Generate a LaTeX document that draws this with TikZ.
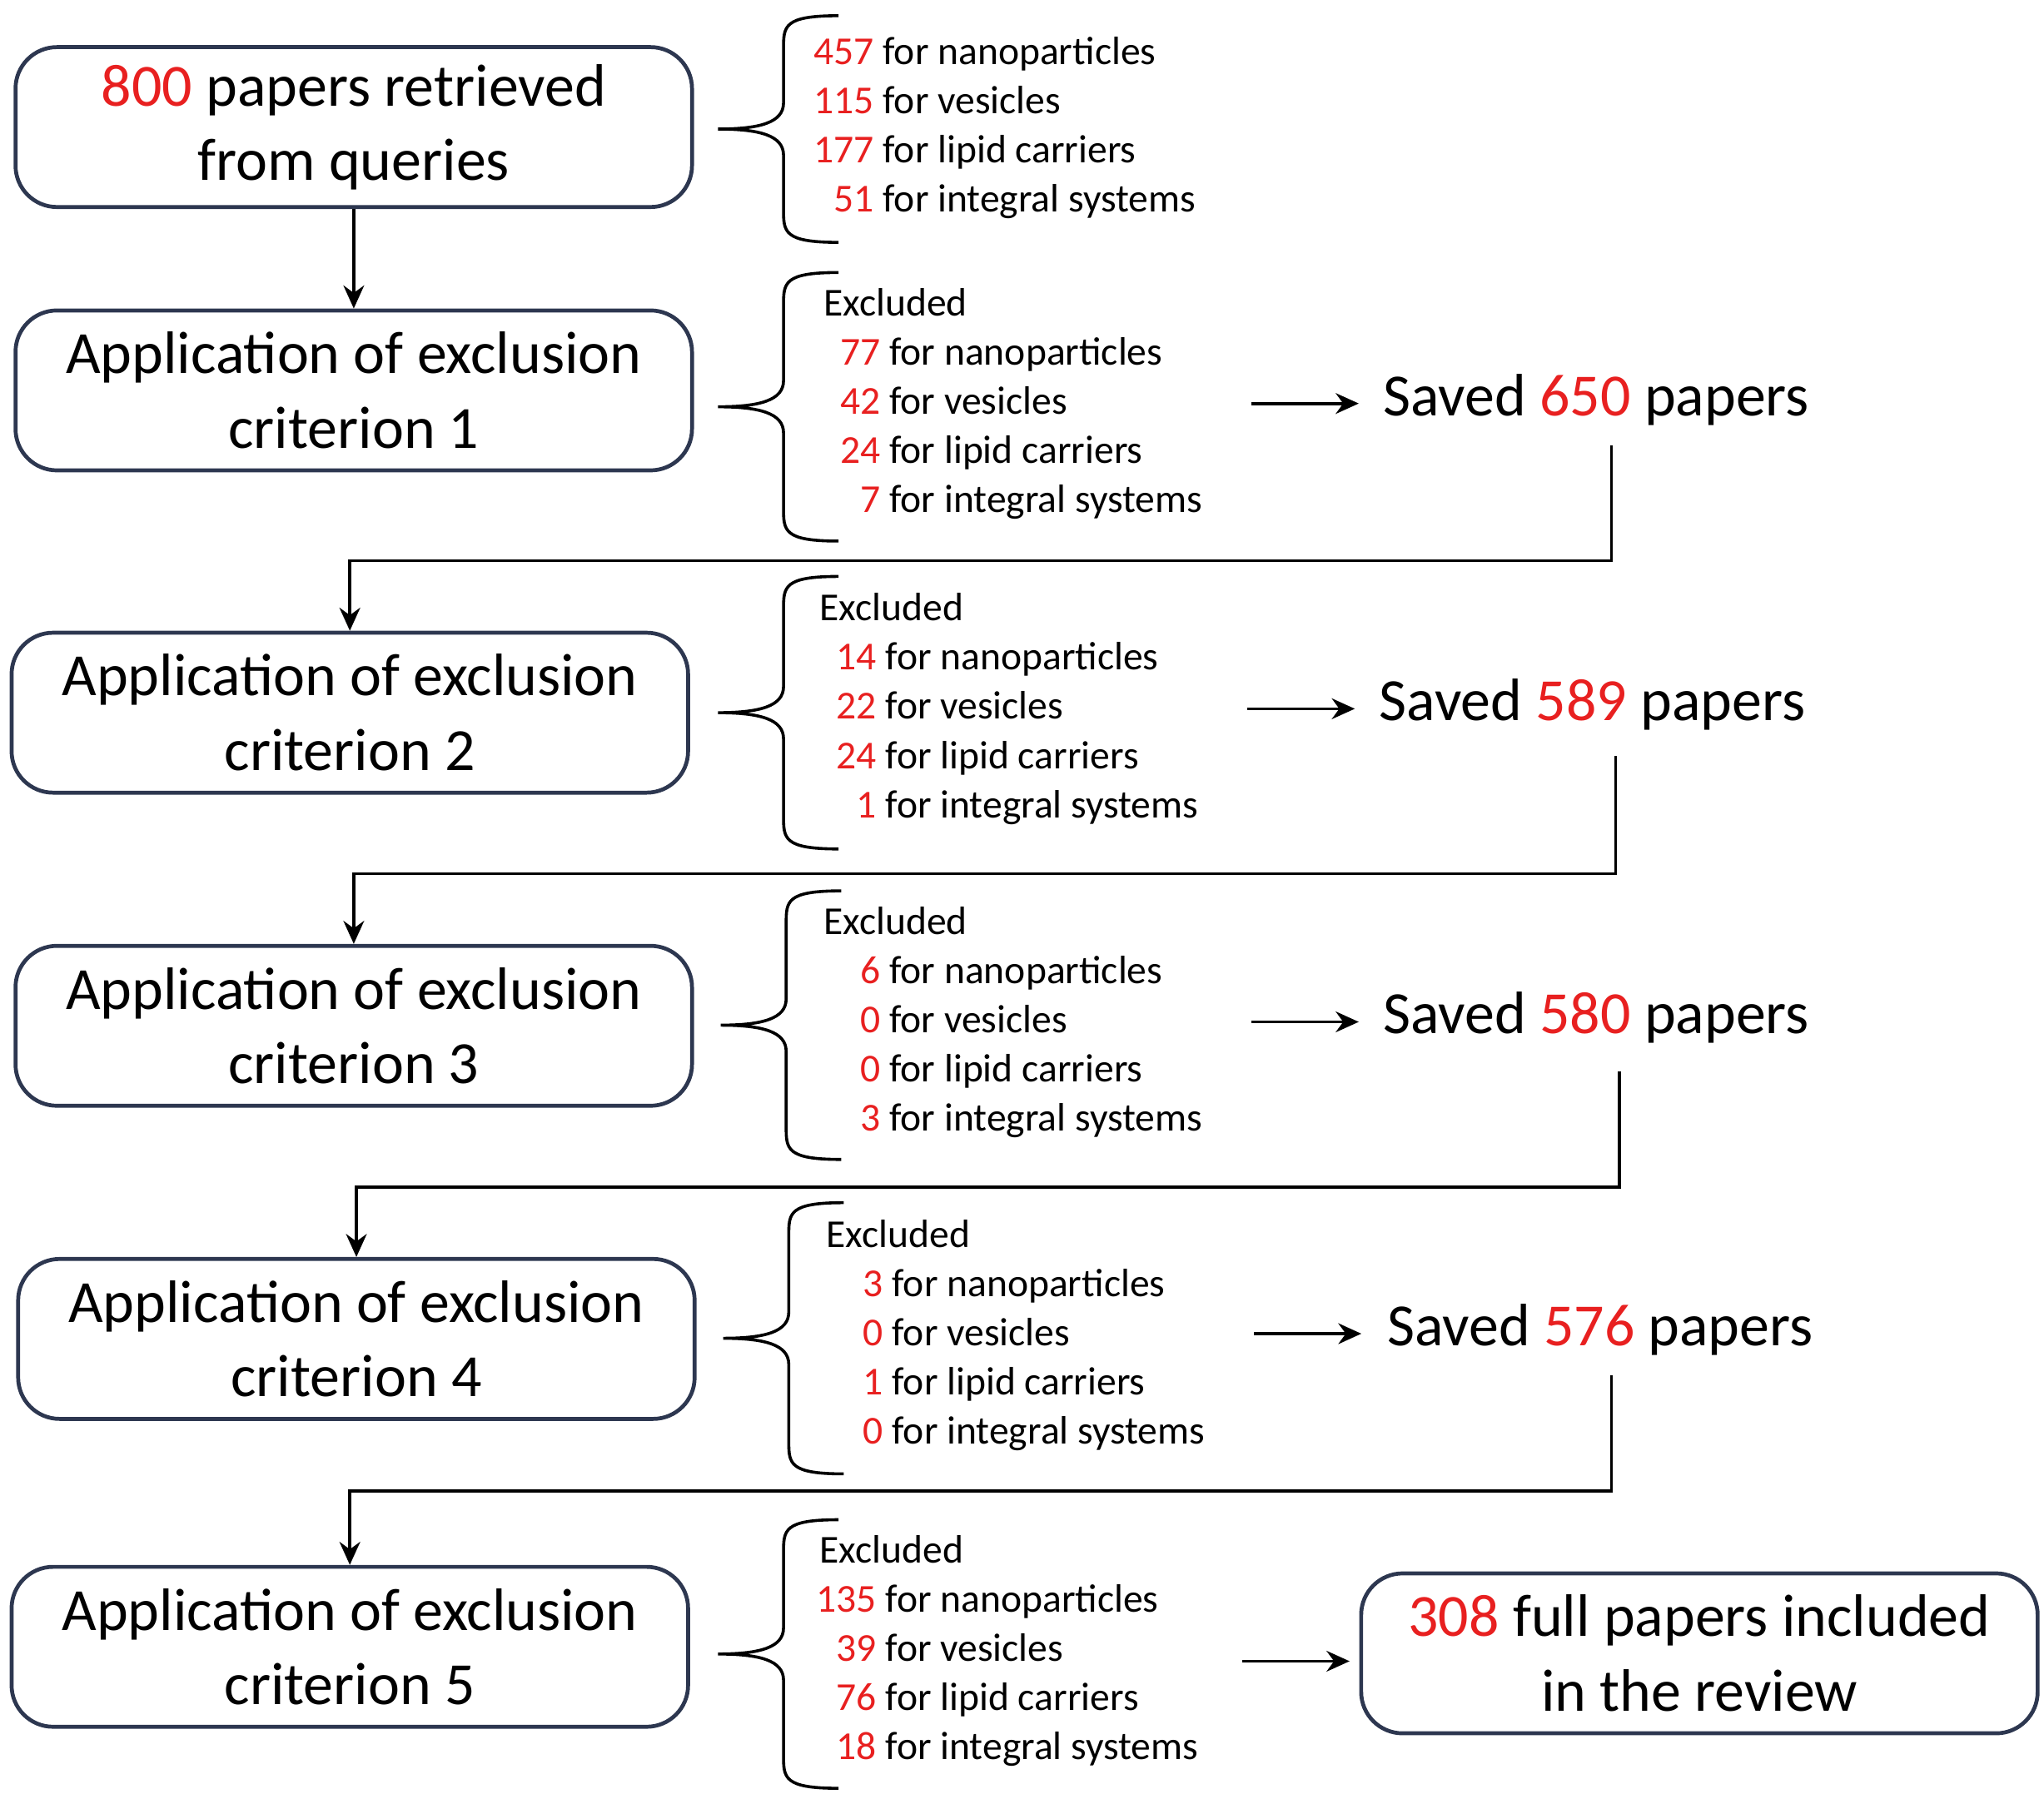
\documentclass[tikz,border=0pt]{standalone}
\usepackage{fontspec}
\setmainfont{Carlito}
\usetikzlibrary{arrows.meta}
\definecolor{rd}{RGB}{232,32,32}
\definecolor{bx}{RGB}{45,55,80}
\newcommand\R[1]{\makebox[12.3pt][r]{\textcolor{rd}{#1}}}
\newcommand\Rt[1]{\textcolor{rd}{#1}}
\newcommand\brc[3]{% x-offset, top, bottom
\draw[brcline] ({640+#1},#2) .. controls ({598+#1},#2) and ({598+#1},{#2+8}) .. ({598+#1},{#2+25})
 -- ({598+#1},{(#2+#3)/2-20}) .. controls ({598+#1},{(#2+#3)/2-5}) and ({580+#1},{(#2+#3)/2}) .. ({548+#1},{(#2+#3)/2})
 .. controls ({580+#1},{(#2+#3)/2}) and ({598+#1},{(#2+#3)/2+5}) .. ({598+#1},{(#2+#3)/2+20})
 -- ({598+#1},{#3-25}) .. controls ({598+#1},{#3-8}) and ({598+#1},#3) .. ({640+#1},#3);}
\tikzset{
 box/.style={draw=bx,line width=0.85pt,rounded corners=9pt,minimum width=5.16cm,minimum height=1.22cm,align=center,font=\fontsize{13}{16.2}\selectfont,inner sep=0pt},
 lst/.style={anchor=north west,inner sep=0pt,font=\fontsize{8.6}{10.67}\selectfont},
 sv/.style={anchor=west,inner sep=0pt,font=\fontsize{13}{16}\selectfont},
 arr/.style={line width=0.65pt,-{Stealth[length=5pt,width=4.5pt]}},
 brcline/.style={line width=0.65pt},
}
\begin{document}
\begin{tikzpicture}[x=0.01cm,y=-0.01cm]
\useasboundingbox (0,0) rectangle (1560,1373);
\node[box] (b1) at (270,97) {\Rt{800} papers retrieved\\from queries};
\node[box] (b2) at (270,298) {Application of exclusion\\criterion 1};
\node[box] (b3) at (267,544) {Application of exclusion\\criterion 2};
\node[box] (b4) at (270,783) {Application of exclusion\\criterion 3};
\node[box] (b5) at (272,1022) {Application of exclusion\\criterion 4};
\node[box] (b6) at (267,1257) {Application of exclusion\\criterion 5};
\node[box] (fin) at (1297,1262) {\Rt{308} full papers included\\in the review};
\draw[arr] (b1) -- (b2);
% braces
\brc{0}{12}{185}
\brc{0}{208}{413}
\brc{0}{440}{648}
\brc{2}{680}{885}
\brc{4}{918}{1125}
\brc{0}{1160}{1365}
% lists
\node[lst] (l1) at (623,22) {\begin{tabular}{@{}l@{\ }l@{}}\R{457}&for nanoparticles\\\R{115}&for vesicles\\\R{177}&for lipid carriers\\\R{51}&for integral systems\end{tabular}};
\node[lst] (l2) at (628,214) {\begin{tabular}{@{}l@{\ }l@{}}\multicolumn{2}{@{}l@{}}{Excluded}\\\R{77}&for nanoparticles\\\R{42}&for vesicles\\\R{24}&for lipid carriers\\\R{7}&for integral systems\end{tabular}};
\node[lst] (l3) at (625,447) {\begin{tabular}{@{}l@{\ }l@{}}\multicolumn{2}{@{}l@{}}{Excluded}\\\R{14}&for nanoparticles\\\R{22}&for vesicles\\\R{24}&for lipid carriers\\\R{1}&for integral systems\end{tabular}};
\node[lst] (l4) at (628,686) {\begin{tabular}{@{}l@{\ }l@{}}\multicolumn{2}{@{}l@{}}{Excluded}\\\R{6}&for nanoparticles\\\R{0}&for vesicles\\\R{0}&for lipid carriers\\\R{3}&for integral systems\end{tabular}};
\node[lst] (l5) at (630,925) {\begin{tabular}{@{}l@{\ }l@{}}\multicolumn{2}{@{}l@{}}{Excluded}\\\R{3}&for nanoparticles\\\R{0}&for vesicles\\\R{1}&for lipid carriers\\\R{0}&for integral systems\end{tabular}};
\node[lst] (l6) at (625,1166) {\begin{tabular}{@{}l@{\ }l@{}}\multicolumn{2}{@{}l@{}}{Excluded}\\\R{135}&for nanoparticles\\\R{39}&for vesicles\\\R{76}&for lipid carriers\\\R{18}&for integral systems\end{tabular}};
% saved
\node[sv] (s2) at (1055,305) {Saved \Rt{650} papers};
\node[sv] (s3) at (1052,538) {Saved \Rt{589} papers};
\node[sv] (s4) at (1055,777) {Saved \Rt{580} papers};
\node[sv] (s5) at (1058,1015) {Saved \Rt{576} papers};
\coordinate (a2) at (955,308); \coordinate (t2) at (1037,308);
\coordinate (a3) at (952,541); \coordinate (t3) at (1034,541);
\coordinate (a4) at (955,780); \coordinate (t4) at (1037,780);
\coordinate (a5) at (957,1018); \coordinate (t5) at (1039,1018);
\coordinate (a6) at (948,1268); \coordinate (t6) at (1030,1268);
\draw[arr] (a2) -- (t2);
\draw[arr] (a3) -- (t3);
\draw[arr] (a4) -- (t4);
\draw[arr] (a5) -- (t5);
\draw[arr] (a6) -- (t6);
% connectors
\coordinate (c2) at (1230,340); \coordinate (c3) at (1233,577);
\coordinate (c4) at (1236,818); \coordinate (c5) at (1230,1050);
\draw[arr] (c2) -- (1230,428) -| (b3.north);
\draw[arr] (c3) -- (1233,667) -| (b4.north);
\draw[arr] (c4) -- (1236,906) -| (b5.north);
\draw[arr] (c5) -- (1230,1138) -| (b6.north);
\end{tikzpicture}
\end{document}
